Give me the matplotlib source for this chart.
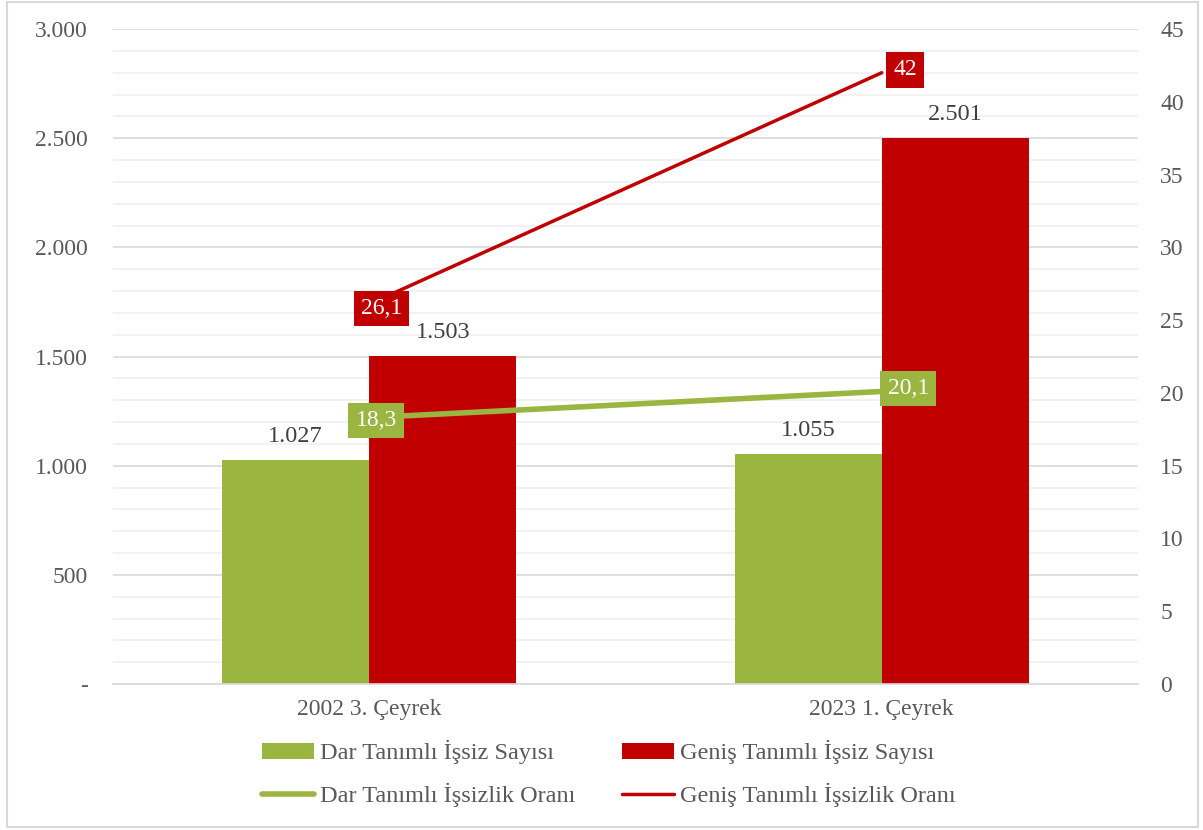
import numpy as np
import matplotlib
matplotlib.use('Agg')
import matplotlib.pyplot as plt
from matplotlib.patches import Patch, Rectangle
from matplotlib.lines import Line2D
from matplotlib.ticker import FixedLocator, MultipleLocator

# Veriler
categories = ['2002 3. Çeyrek', '2023 1. Çeyrek']
dar_sayi = [1027, 1055]
genis_sayi = [1503, 2501]
dar_oran = [18.3, 20.1]
genis_oran = [26.1, 42]

dar_sayi_labels = ['1.027', '1.055']
genis_sayi_labels = ['1.503', '2.501']
dar_oran_labels = ['18,3', '20,1']
genis_oran_labels = ['26,1', '42']

left_ticks = [0, 500, 1000, 1500, 2000, 2500, 3000]
left_tick_labels = ['-', '500', '1.000', '1.500', '2.000', '2.500', '3.000']
right_ticks = [0, 5, 10, 15, 20, 25, 30, 35, 40, 45]

GREEN = '#9bb541'
RED = '#c00000'
TXT = '#595959'
LBL = '#404040'

plt.rcParams['font.family'] = ['Liberation Serif', 'DejaVu Serif']

fig = plt.figure(figsize=(12.03, 8.3), dpi=100)
ax = fig.add_axes([0.0939, 0.1759, 0.946 - 0.0939, 0.965 - 0.1759])

x = np.arange(len(categories))
w = 0.287
ax.bar(x - w / 2, dar_sayi, w, color=GREEN, zorder=2)
ax.bar(x + w / 2, genis_sayi, w, color=RED, zorder=2)

for i in range(len(x)):
    ax.annotate(dar_sayi_labels[i], (x[i] - w / 2, dar_sayi[i]), xytext=(0, 9),
                textcoords='offset points', ha='center', va='bottom', fontsize=17.5, color=LBL)
    ax.annotate(genis_sayi_labels[i], (x[i] + w / 2, genis_sayi[i]), xytext=(0, 9),
                textcoords='offset points', ha='center', va='bottom', fontsize=17.5, color=LBL)

ax.set_xlim(-0.5, 1.5)
ax.set_ylim(0, 3000)
ax.set_xticks(x)
ax.set_xticklabels(categories, fontsize=17, color=TXT)
ax.yaxis.set_major_locator(FixedLocator(left_ticks))
ax.set_yticklabels(left_tick_labels, fontsize=17, color=TXT)
ax.yaxis.set_minor_locator(MultipleLocator(100))
ax.tick_params(axis='both', which='both', length=0)
ax.tick_params(axis='y', pad=18)
ax.tick_params(axis='x', pad=11)
ax.grid(axis='y', which='major', color='#d9d9d9', linewidth=1.2, zorder=0)
ax.grid(axis='y', which='minor', color='#f0f0f0', linewidth=1.2, zorder=0)
ax.set_axisbelow(True)
for s in ['top', 'right', 'left']:
    ax.spines[s].set_visible(False)
ax.spines['bottom'].set_color('#d9d9d9')
ax.spines['bottom'].set_linewidth(1.2)

ax2 = ax.twinx()
ax2.plot(x, dar_oran, color=GREEN, linewidth=4, solid_capstyle='round', zorder=3)
ax2.plot(x, genis_oran, color=RED, linewidth=2.5, solid_capstyle='round', zorder=3)
ax2.set_ylim(0, 45)
ax2.set_yticks(right_ticks)
ax2.set_yticklabels([str(t) for t in right_ticks], fontsize=17, color=TXT)
ax2.tick_params(axis='y', length=0, pad=16)
for s in ax2.spines.values():
    s.set_visible(False)

# etiket kaydırmaları (punto)
dar_off = [(5, -2), (19, 2)]
genis_off = [(9, -3), (17, 2)]
for i in range(len(x)):
    ax2.annotate(dar_oran_labels[i], (x[i], dar_oran[i]), xytext=dar_off[i],
                 textcoords='offset points', ha='center', va='center', fontsize=17, color='white',
                 bbox=dict(boxstyle='square,pad=0.3', facecolor=GREEN, edgecolor='none'), zorder=5)
    ax2.annotate(genis_oran_labels[i], (x[i], genis_oran[i]), xytext=genis_off[i],
                 textcoords='offset points', ha='center', va='center', fontsize=17, color='white',
                 bbox=dict(boxstyle='square,pad=0.3', facecolor=RED, edgecolor='none'), zorder=5)

handles = [Patch(facecolor=GREEN, label='Dar Tanımlı İşsiz Sayısı'),
           Line2D([0], [0], color=GREEN, linewidth=4, solid_capstyle='round', label='Dar Tanımlı İşsizlik Oranı'),
           Patch(facecolor=RED, label='Geniş Tanımlı İşsiz Sayısı'),
           Line2D([0], [0], color=RED, linewidth=2.5, solid_capstyle='round', label='Geniş Tanımlı İşsizlik Oranı')]
leg = fig.legend(handles=handles, loc='center', bbox_to_anchor=(0.506, 0.068), ncol=2, frameon=False,
                 fontsize=17.5, handlelength=2.15, handleheight=0.6, handletextpad=0.25, columnspacing=1.9,
                 labelspacing=0.75)
for t in leg.get_texts():
    t.set_color(TXT)

fig.patches.append(Rectangle((0.006, 0.004), 0.99, 0.994, transform=fig.transFigure,
                             fill=False, edgecolor='#d9d9d9', linewidth=1.5))

fig.savefig('out.png', dpi=100)
